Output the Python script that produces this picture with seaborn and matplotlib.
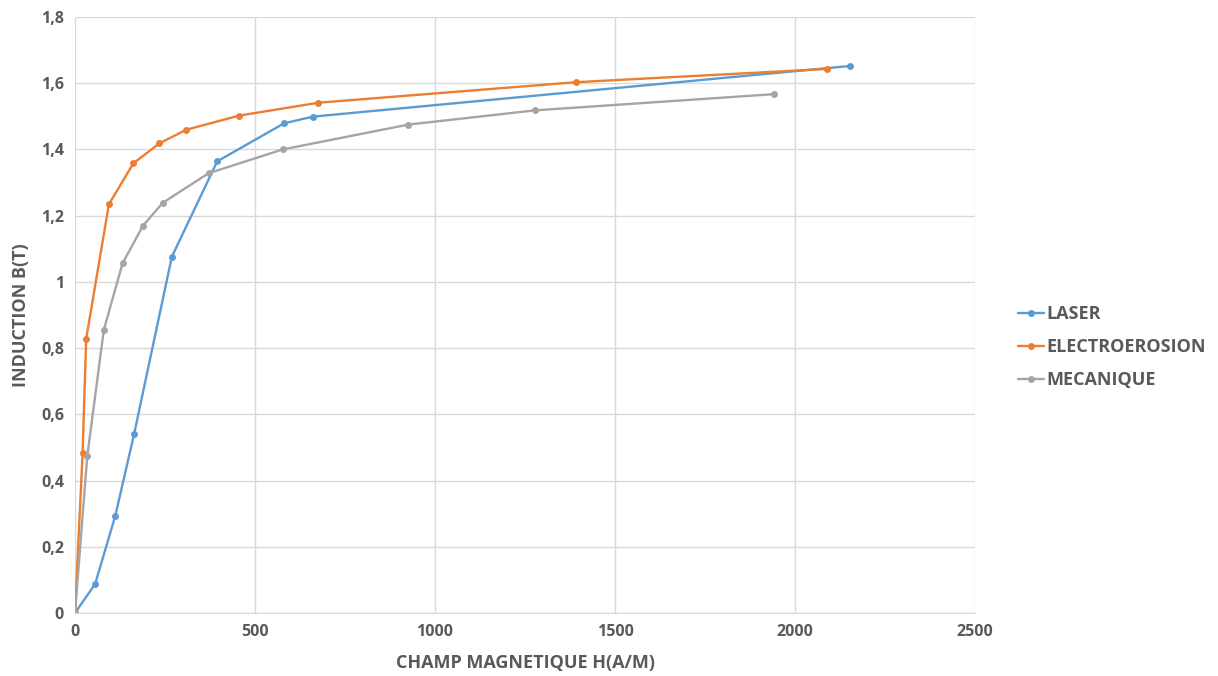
import pandas as pd
import matplotlib
matplotlib.use("Agg")
import matplotlib.pyplot as plt
import seaborn as sns
from matplotlib.ticker import FuncFormatter

# valeurs
h_laser = [0, 56, 112, 164, 269, 395, 581, 661, 2153]
b_laser = [0, 0.088, 0.294, 0.540, 1.076, 1.364, 1.479, 1.499, 1.652]

h_electro = [0, 21, 31, 94, 162, 234, 308, 455, 676, 1392, 2088]
b_electro = [0, 0.482, 0.828, 1.234, 1.358, 1.418, 1.459, 1.502, 1.541, 1.603, 1.643]

h_meca = [0, 34, 80, 132, 189, 244, 371, 577, 926, 1278, 1943]
b_meca = [0, 0.474, 0.855, 1.056, 1.170, 1.239, 1.328, 1.400, 1.475, 1.518, 1.567]

series = ["LASER", "ELECTROEROSION", "MECANIQUE"]
couleurs = ["#5B9BD5", "#ED7D31", "#A5A5A5"]

df = pd.concat([
    pd.DataFrame({"H": h_laser, "B": b_laser, "serie": "LASER"}),
    pd.DataFrame({"H": h_electro, "B": b_electro, "serie": "ELECTROEROSION"}),
    pd.DataFrame({"H": h_meca, "B": b_meca, "serie": "MECANIQUE"}),
], ignore_index=True)

sns.set_style("white")
plt.rcParams["font.family"] = ["Open Sans", "DejaVu Sans"]

fig = plt.figure(figsize=(12.18, 6.76), dpi=100)
ax = fig.add_axes([0.0616, 0.0932, 0.7389, 0.8817])

sns.lineplot(data=df, x="H", y="B", hue="serie", hue_order=series,
             palette=couleurs, marker="o", markersize=5, markeredgewidth=0,
             linewidth=1.7, sort=False, estimator=None, ax=ax)

ax.set_xlim(0, 2500)
ax.set_ylim(0, 1.8)
ax.set_xticks(range(0, 2501, 500))
ax.set_yticks([i * 0.2 for i in range(10)])
ax.yaxis.set_major_formatter(FuncFormatter(
    lambda v, p: "0" if abs(v) < 1e-9 else ("1" if abs(v - 1) < 1e-9 else f"{v:.1f}".replace(".", ","))))
ax.grid(True, color="#D9D9D9", linewidth=1)
ax.set_axisbelow(True)
for s in ["top", "right", "left"]:
    ax.spines[s].set_visible(False)
ax.spines["bottom"].set_color("#D9D9D9")
ax.tick_params(axis="both", length=0, labelsize=11.5, labelcolor="#595959", pad=8)
for lab in ax.get_xticklabels() + ax.get_yticklabels():
    lab.set_fontweight("bold")

ax.set_xlabel("CHAMP MAGNETIQUE H(A/M)", fontsize=13, fontweight="bold", color="#595959", labelpad=10)
ax.set_ylabel("INDUCTION B(T)", fontsize=13, fontweight="bold", color="#595959", labelpad=8)

leg = ax.legend(loc="center left", bbox_to_anchor=(1.03, 0.446), frameon=False,
                fontsize=13, handlelength=1.45, handletextpad=0.1, labelspacing=0.82)
for t in leg.get_texts():
    t.set_color("#595959")
    t.set_fontweight("bold")

fig.savefig("out.png", dpi=100)
